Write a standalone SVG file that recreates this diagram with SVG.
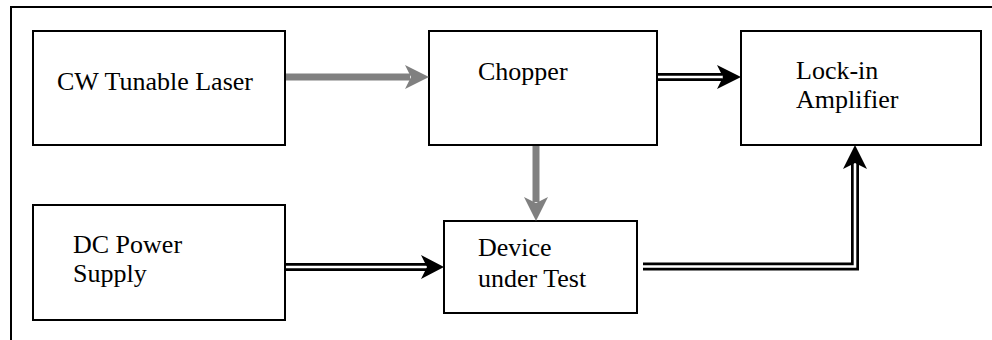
<svg xmlns="http://www.w3.org/2000/svg" width="992" height="340" viewBox="0 0 992 340">
<style>
.box{fill:#fff;stroke:#000;stroke-width:2}
.t{font-family:"Liberation Serif","Times New Roman",serif;font-size:26px;fill:#000}
.gray{stroke:#808080;stroke-width:7;fill:none}
.dblo{stroke:#000;stroke-width:8;fill:none}
.dbli{stroke:#fff;stroke-width:2.6;fill:none}
.hg{fill:#808080}
.hb{fill:#000}
</style>
<rect width="992" height="340" fill="#fff"/>
<g id="frame">
<polyline points="11,340 11,7 992,7" fill="none" stroke="#000" stroke-width="2"/>
</g>
<g id="laser">
<rect class="box" x="33" y="31" width="252" height="114"/>
<text class="t" x="57" y="90">CW Tunable Laser</text>
</g>
<g id="chopper">
<rect class="box" x="429" y="31" width="228" height="114"/>
<text class="t" x="478" y="80">Chopper</text>
</g>
<g id="lockin">
<rect class="box" x="741" y="31" width="240" height="114"/>
<text class="t" x="796" y="79">Lock-in</text>
<text class="t" x="796" y="108">Amplifier</text>
</g>
<g id="dcpower">
<rect class="box" x="33" y="205" width="252" height="115"/>
<text class="t" x="73" y="253">DC Power</text>
<text class="t" x="73" y="282">Supply</text>
</g>
<g id="dut">
<rect class="box" x="444" y="221" width="193" height="92"/>
<text class="t" x="478" y="256">Device</text>
<text class="t" x="478" y="287">under Test</text>
</g>
<g id="connectors">
<line class="gray" x1="286" y1="77" x2="410" y2="77"/>
<path class="hg" d="M429,77 L405,65 L411,77 L405,89 Z"/>
<line class="gray" x1="536" y1="146" x2="536" y2="202"/>
<path class="hg" d="M536,221 L524,197 L536,203 L548,197 Z"/>
<line class="dblo" x1="658" y1="77" x2="722" y2="77"/>
<line class="dbli" x1="658" y1="77" x2="724" y2="77"/>
<path class="hb" d="M741,77 L717,65 L723,77 L717,89 Z"/>
<line class="dblo" x1="286" y1="267" x2="427" y2="267"/>
<line class="dbli" x1="286" y1="267" x2="429" y2="267"/>
<path class="hb" d="M444,267 L421,255 L427,267 L421,279 Z"/>
<polyline class="dblo" points="643,266.5 855,266.5 855,162"/>
<polyline class="dbli" points="643,266.5 855,266.5 855,160"/>
<path class="hb" d="M855,145 L843,169 L855,163 L867,169 Z"/>
</g>
</svg>
